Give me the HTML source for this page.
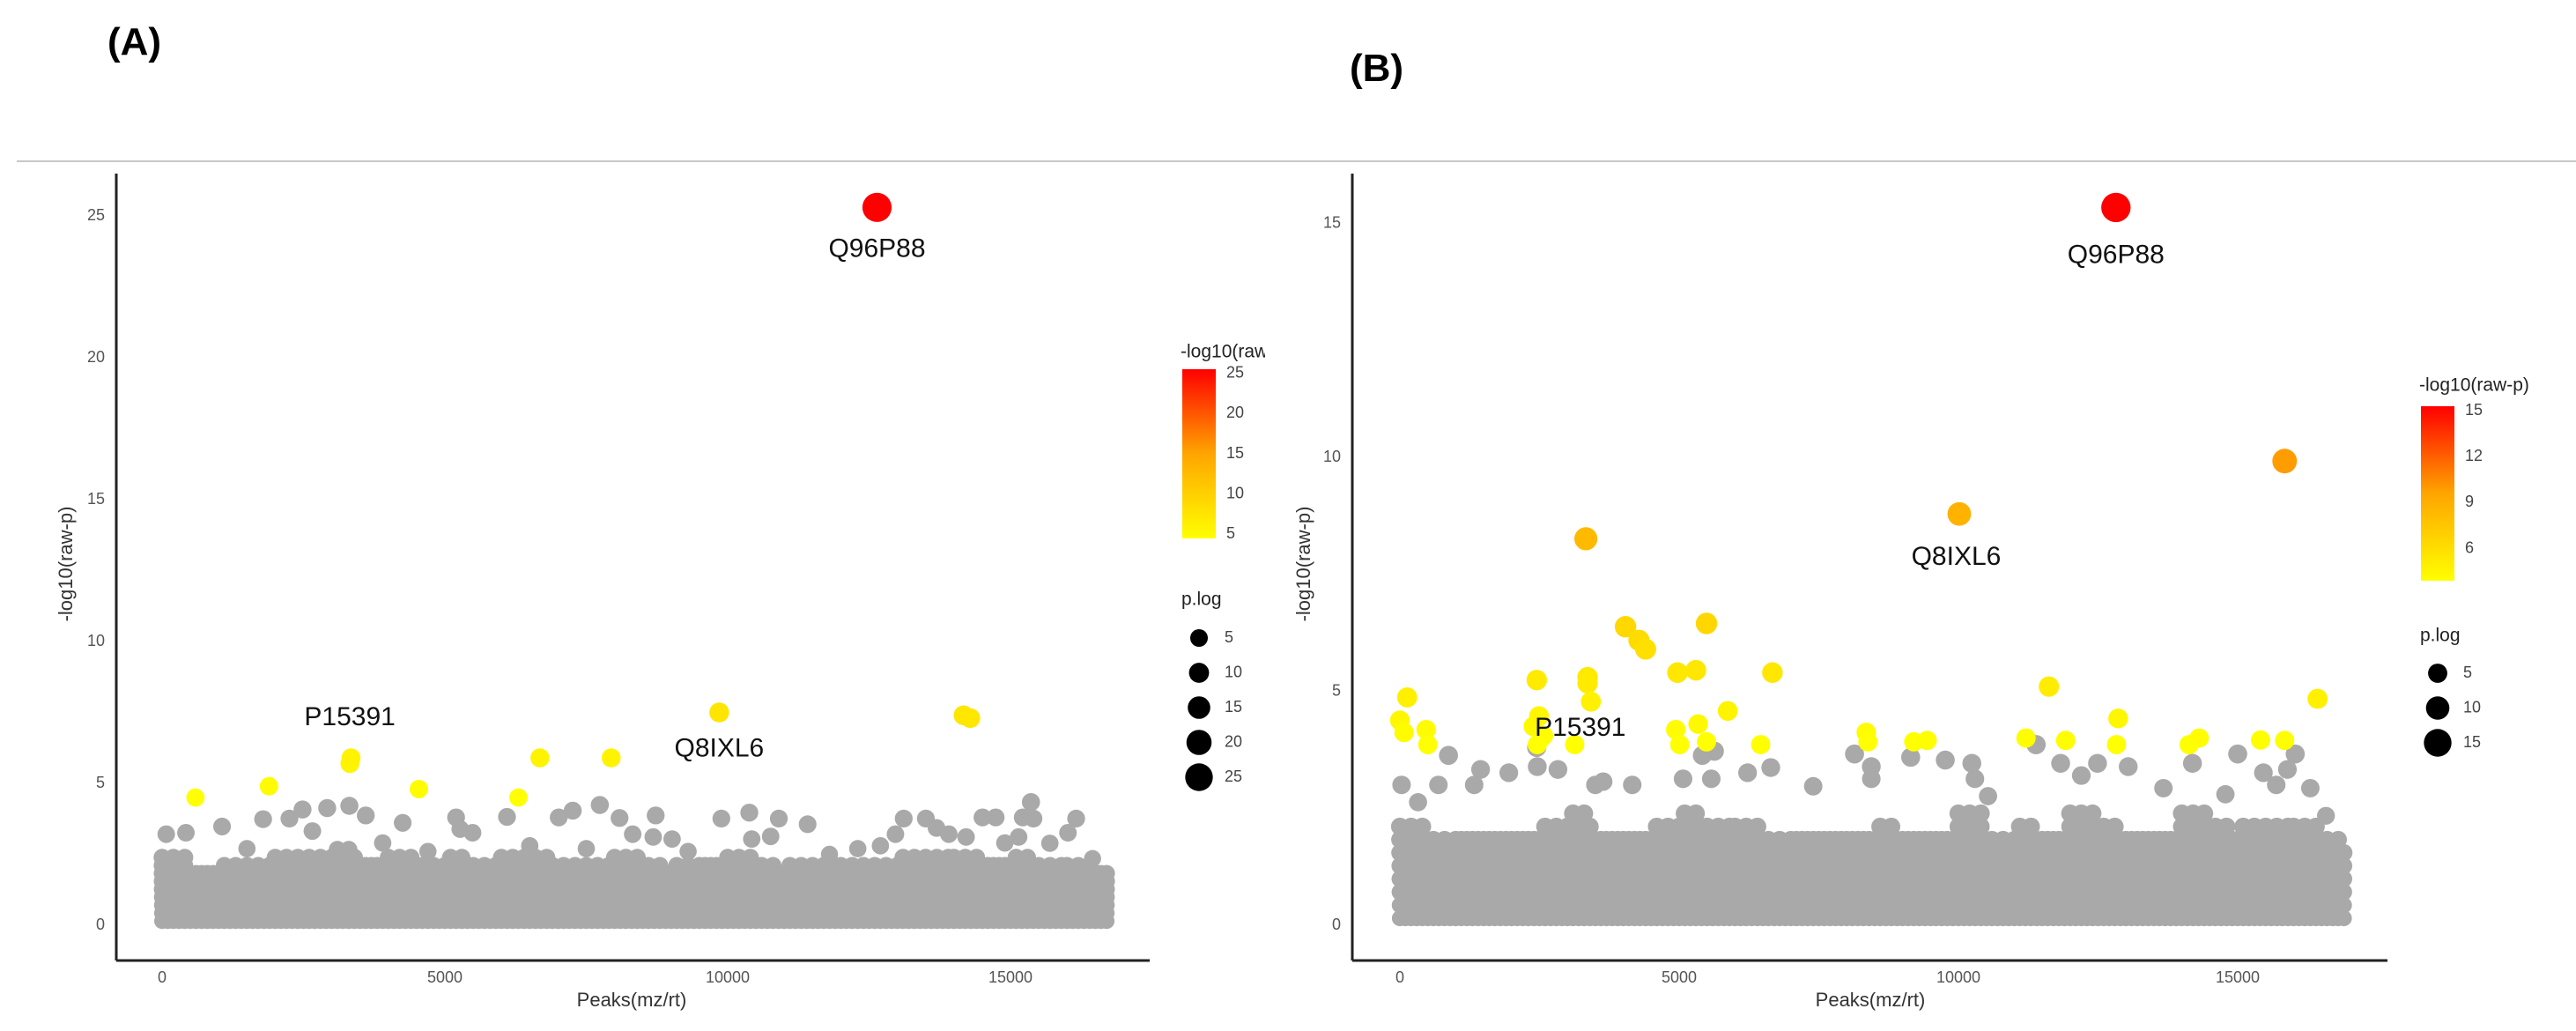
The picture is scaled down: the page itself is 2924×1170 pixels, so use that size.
<!DOCTYPE html>
<html><head><meta charset="utf-8">
<style>
html,body{margin:0;padding:0;background:#fff;}
svg{display:block;font-family:"Liberation Sans",Arial,sans-serif;}
</style></head>
<body>
<svg id="fig" width="2924" height="1170" viewBox="0 0 2924 1170" xmlns="http://www.w3.org/2000/svg">
<defs>
<linearGradient id="gradA" x1="0" y1="1" x2="0" y2="0"><stop offset="0" stop-color="#ffff00"/><stop offset="0.5" stop-color="#ffa500"/><stop offset="1" stop-color="#ff0000"/></linearGradient>
<linearGradient id="gradB" x1="0" y1="1" x2="0" y2="0"><stop offset="0" stop-color="#ffff00"/><stop offset="0.5" stop-color="#ffa500"/><stop offset="1" stop-color="#ff0000"/></linearGradient>
<clipPath id="clipA"><rect x="0" y="0" width="1436" height="1170"/></clipPath>
</defs>
<text x="122" y="62" font-size="44" font-weight="bold" fill="#000">(A)</text>
<text x="1532" y="92" font-size="44" font-weight="bold" fill="#000">(B)</text>
<line x1="19" y1="183" x2="2924" y2="183" stroke="#c8c8c8" stroke-width="2"/>
<g id="panelA"></g>
<g id="panelB"></g>
</svg>
<script>
// ---------- Panel A data ----------
const aSigX = [590,1890,3320,3340,4540,6300,6680,7940,9850,14170,14290,12640];
const aSigY = [4.5,4.9,5.7,5.9,4.8,4.5,5.9,5.9,7.5,7.4,7.3,25.3];
const aGrayX = [73,421,1060,1786,2251,2483,2919,3311,3601,4254,5198,6098,7013,7260,7739,8088,8727,8320,8683,9017,9888,10382,10425,10759,10904,11413,13112,13504,13692,13910,14505,14738,15217,15362,15406,15144,15696,16161,16016,14215,12966,5271,5489,2657,16451,1500,3900,4700,6500,7500,9300,11800,12300,12700,14900];
const aGrayY = [3.21,3.26,3.48,3.74,3.76,4.08,4.13,4.21,3.87,3.61,3.80,3.82,3.80,4.04,4.24,3.78,3.87,3.21,3.11,3.04,3.76,3.97,3.04,3.13,3.76,3.56,3.76,3.76,3.43,3.21,3.80,3.80,3.80,4.34,3.76,3.11,2.89,3.76,3.26,3.11,3.21,3.39,3.26,3.32,2.35,2.7,2.9,2.6,2.8,2.7,2.6,2.5,2.7,2.8,2.9];
const aBandTop = [2.4,2.2,2.3,2.3,2.4,2.6,2.7,2.5,2.6,2.3,2.4,2.4,2.5,2.6,2.3,2.4,2.4,2.3,2.3,2.5,2.6,2.4,2.3,2.3,2.3,2.3,2.4,2.6,2.4,2.5,2.4,2.3,2.3,2.2];
const aLabels = ["Q96P88","P15391","Q8IXL6"];
const aLabelX = [12640,3320,9850];
const aLabelY = [23.8,7.3,6.2];
const aXTicks = [0,5000,10000,15000];
const aYTicks = [0,5,10,15,20,25];
const aColorTicks = [5,10,15,20,25];
const aSizeTicks = [5,10,15,20,25];

// ---------- Panel B data ----------
const bSigX = [12820,15840,10015,3330,4040,4280,4400,5490,4970,5300,6670,3360,3360,3420,2450,130,0,75,470,500,2390,2490,2570,2460,3130,4940,5340,5010,5490,5870,6460,8350,8380,9200,9440,11210,11620,11920,12860,12830,14130,14310,15410,15840,16430];
const bSigY = [15.34,9.92,8.79,8.26,6.38,6.09,5.9,6.45,5.4,5.45,5.4,5.3,5.17,4.78,5.24,4.87,4.38,4.12,4.18,3.86,4.25,4.47,4.05,3.86,3.86,4.18,4.3,3.86,3.92,4.58,3.86,4.12,3.92,3.92,3.95,4.0,5.1,3.95,4.42,3.86,3.86,4.0,3.96,3.95,4.84];
const bGrayX = [870,30,325,690,1445,1330,1950,2830,2460,3500,3640,4160,5070,5630,5415,5575,6225,6640,7400,8140,8440,8440,9145,9765,10240,10295,10530,11390,11830,12200,12490,13040,13670,14190,15000,15460,15890,16030,16300,15690,16580,14780,2450];
const bGrayY = [3.63,3.0,2.63,3.0,3.33,3.0,3.26,3.33,3.39,3.0,3.07,3.0,3.13,3.72,3.63,3.13,3.26,3.37,2.97,3.66,3.39,3.13,3.59,3.53,3.46,3.13,2.76,3.86,3.46,3.2,3.46,3.39,2.93,3.46,3.66,3.26,3.33,3.66,2.93,3.0,2.34,2.8,3.8];
const bBandTop = [2.3,2.1,2.1,2.2,2.1,2.4,2.4,2.2,2.1,2.3,2.4,2.4,2.2,2.1,2.1,2.2,2.1,2.3,2.1,2.2,2.4,2.1,2.3,2.2,2.4,2.3,2.1,2.2,2.4,2.3,2.2,2.4,2.3,2.1];
const bLabels = ["Q96P88","Q8IXL6","P15391"];
const bLabelX = [12820,9960,3230];
const bLabelY = [14.3,7.85,4.2];
const bXTicks = [0,5000,10000,15000];
const bYTicks = [0,5,10,15];
const bColorTicks = [6,9,12,15];
const bSizeTicks = [5,10,15];

const NS = "http://www.w3.org/2000/svg";
function mk(tag, attrs, parent){
  const e = document.createElementNS(NS, tag);
  for (const k in attrs) e.setAttribute(k, attrs[k]);
  parent.appendChild(e);
  return e;
}
function colorFor(v, vmin, vmax){
  let t = Math.max(0, Math.min(1, (v - vmin) / (vmax - vmin)));
  let g;
  if (t < 0.5) g = 255 - (t / 0.5) * 90; else g = 165 - ((t - 0.5) / 0.5) * 165;
  return "rgb(255," + Math.round(g) + ",0)";
}

function drawPanel(g, cfg){
  const sx = v => cfg.x0 + v * cfg.kx;
  const sy = v => cfg.y0 - v * cfg.ky;
  const rad = v => cfg.r0 + v * cfg.rk;
  const band = mk("g", {}, g);
  
  
  for (let i = 0; i < cfg.band.length; i++){
    for (let j = 0; j < 5; j++){
      const xv = i * 500 + j * 100;
      if (xv > cfg.xmax) continue;
      const top = cfg.band[i] - 0.12 * ((i * 3 + j * 2) % 4);
      for (let yv = 0.15; yv <= top; yv += 0.28){
        const c = mk("circle", {cx: sx(xv).toFixed(1), cy: sy(yv).toFixed(1), r: rad(yv).toFixed(1), fill: "#a9a9a9"}, band);
        
        
      }
    }
  }
  for (let i = 0; i < cfg.gx.length; i++){
    const c = mk("circle", {cx: sx(cfg.gx[i]), cy: sy(cfg.gy[i]), r: rad(cfg.gy[i]), fill: "#a9a9a9"}, g);
    
    
  }
  for (let i = 0; i < cfg.sx.length; i++){
    const v = cfg.sy[i];
    const c = mk("circle", {cx: sx(cfg.sx[i]), cy: sy(v), r: rad(v), fill: colorFor(v, cfg.cmin, cfg.cmax)}, g);
    
    
  }
  for (let i = 0; i < cfg.labels.length; i++){
    const t = mk("text", {x: sx(cfg.lx[i]), y: sy(cfg.ly[i]), "font-size": 30, "text-anchor": "middle", "dominant-baseline": "middle", fill: "#111"}, g);
    t.textContent = cfg.labels[i];
    
    
  }
  const ya = mk("line", {x1: cfg.ax, y1: 197, x2: cfg.ax, y2: 1090, stroke: "#222", "stroke-width": 3}, g);
  
  
  const xa = mk("line", {x1: cfg.ax, y1: 1090, x2: cfg.axEnd, y2: 1090, stroke: "#222", "stroke-width": 3}, g);
  
  
  for (const v of cfg.xt){
    const t = mk("text", {x: sx(v), y: 1110, "font-size": 18, "text-anchor": "middle", "dominant-baseline": "middle", fill: "#555"}, g);
    t.textContent = v;
    
    
  }
  for (const v of cfg.yt){
    const t = mk("text", {x: cfg.ax - 13, y: sy(v), "font-size": 18, "text-anchor": "end", "dominant-baseline": "middle", fill: "#555"}, g);
    t.textContent = v;
    
    
  }
  const xt = mk("text", {x: cfg.xtitle, y: 1136, "font-size": 22, "text-anchor": "middle", "dominant-baseline": "middle", fill: "#333"}, g);
  xt.textContent = "Peaks(mz/rt)";
  
  
  const yt = mk("text", {x: 0, y: 0, "font-size": 22, "text-anchor": "middle", "dominant-baseline": "middle", fill: "#333", transform: "translate(" + cfg.ytitleX + ",640) rotate(-90)"}, g);
  yt.textContent = "-log10(raw-p)";
  
  
  const lg = mk("g", cfg.clip ? {"clip-path": "url(#clipA)"} : {}, g);
  
  
  const lt = mk("text", {x: cfg.lgX - 2, y: cfg.lgTitleY, "font-size": 21, "dominant-baseline": "middle", fill: "#222"}, lg);
  lt.textContent = "-log10(raw-p)";
  
  
  mk("rect", {x: cfg.lgX, y: cfg.cbTop, width: 38, height: cfg.cbBot - cfg.cbTop, fill: "url(#" + cfg.grad + ")"}, lg);
  const cy = v => cfg.cbBot - (v - cfg.cbMin) / (cfg.cbMax - cfg.cbMin) * (cfg.cbBot - cfg.cbTop);
  for (const v of cfg.ct){
    const t = mk("text", {x: cfg.lgX + 50, y: cy(v), "font-size": 18, "dominant-baseline": "middle", fill: "#444"}, lg);
    t.textContent = v;
    
    
  }
  const sg = mk("g", {}, g);
  
  
  const st = mk("text", {x: cfg.lgX - 1, y: cfg.szTitleY, "font-size": 21, "dominant-baseline": "middle", fill: "#222"}, sg);
  st.textContent = "p.log";
  
  
  cfg.st.forEach((v, i) => {
    const yy = cfg.szY0 + i * cfg.szStep;
    const c = mk("circle", {cx: cfg.lgX + 19, cy: yy, r: (rad(v) * 0.95).toFixed(1), fill: "#000"}, sg);
    
    
    const t = mk("text", {x: cfg.lgX + 48, y: yy, "font-size": 18, "dominant-baseline": "middle", fill: "#444"}, sg);
    t.textContent = v;
    
    
  });
}

drawPanel(document.getElementById("panelA"), {
  x0: 184, kx: 0.0642, y0: 1050, ky: 32.2, r0: 9, rk: 0.3, xmax: 16700,
  band: aBandTop, gx: aGrayX, gy: aGrayY, sx: aSigX, sy: aSigY, cmin: 4.5, cmax: 25.3,
  labels: aLabels, lx: aLabelX, ly: aLabelY, ax: 132, axEnd: 1305,
  xt: aXTicks, yt: aYTicks, xtitle: 717, ytitleX: 76,
  lgX: 1342, lgTitleY: 400, cbTop: 419, cbBot: 611, cbMin: 4.5, cbMax: 25.5, grad: "gradA", ct: aColorTicks, clip: true,
  szTitleY: 681, szY0: 724, szStep: 39.5, st: aSizeTicks
});
drawPanel(document.getElementById("panelB"), {
  x0: 1589, kx: 0.0634, y0: 1050, ky: 53.1, r0: 9, rk: 0.5, xmax: 16950,
  band: bBandTop, gx: bGrayX, gy: bGrayY, sx: bSigX, sy: bSigY, cmin: 3.9, cmax: 15.3,
  labels: bLabels, lx: bLabelX, ly: bLabelY, ax: 1535, axEnd: 2710,
  xt: bXTicks, yt: bYTicks, xtitle: 2123, ytitleX: 1481,
  lgX: 2748, lgTitleY: 438, cbTop: 461, cbBot: 659, cbMin: 3.9, cbMax: 15.3, grad: "gradB", ct: bColorTicks, clip: false,
  szTitleY: 722, szY0: 764, szStep: 39.5, st: bSizeTicks
});
</script>
</body></html>
